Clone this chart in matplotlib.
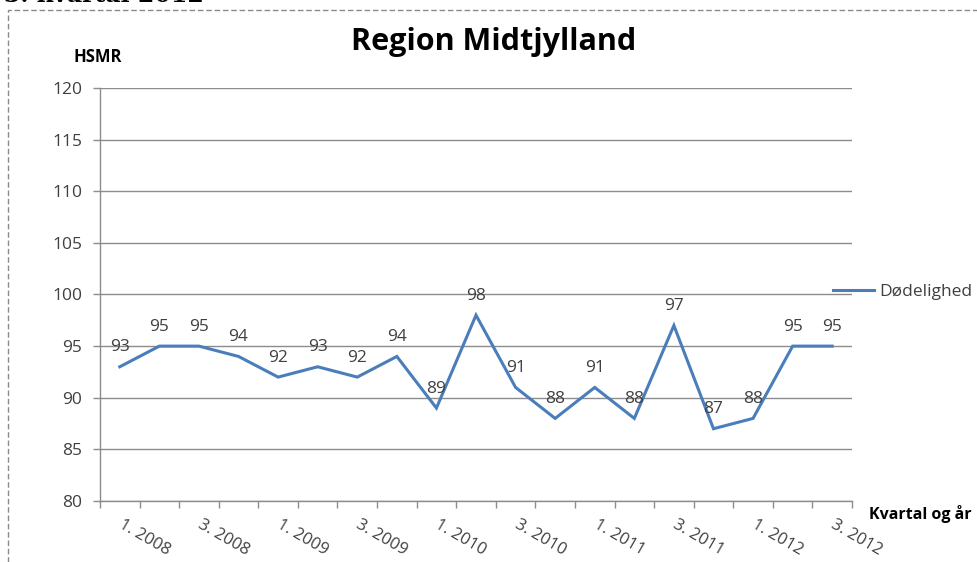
import matplotlib
matplotlib.use("Agg")
import matplotlib.pyplot as plt
from matplotlib.patches import Rectangle

# data
kvartaler = ["1. 2008", "2. 2008", "3. 2008", "4. 2008",
             "1. 2009", "2. 2009", "3. 2009", "4. 2009",
             "1. 2010", "2. 2010", "3. 2010", "4. 2010",
             "1. 2011", "2. 2011", "3. 2011", "4. 2011",
             "1. 2012", "2. 2012", "3. 2012"]
hsmr = [93, 95, 95, 94, 92, 93, 92, 94, 89, 98, 91, 88, 91, 88, 97, 87, 88, 95, 95]
y_ticks = [80, 85, 90, 95, 100, 105, 110, 115, 120]

FONT = ["Open Sans", "DejaVu Sans"]
BLUE = "#4A7EBB"
GRID = "#8C8C8C"
TXT = "#404040"
FS = 12.5

plt.rcParams["font.family"] = FONT

W, H = 978, 562
fig = plt.figure(figsize=(W / 100, H / 100), dpi=100, facecolor="white")

# dashed frame around the chart (only top and left visible)
fig.patches.append(Rectangle((8 / W, -0.05), 1.1, 1 - 10 / H + 0.05,
                             transform=fig.transFigure, fill=False,
                             ec="#8A8A8A", lw=1.0, ls=(0, (4, 2)), clip_on=False))
# page heading, mostly cut off by the top edge
fig.text(4 / W, 1 + 5 / H, "3. kvartal 2012", ha="left", va="center",
         fontsize=17, fontweight="bold", family="DejaVu Serif", color="black")

ax = fig.add_axes([100 / W, 1 - 501 / H, 752 / W, 413 / H])
x = list(range(len(hsmr)))
ax.plot(x, hsmr, color=BLUE, lw=2.2, label="Dødelighed", solid_joinstyle="miter")

for xi, v in zip(x, hsmr):
    ax.annotate(str(v), (xi, v), xytext=(0, 14), textcoords="offset points",
                ha="center", va="center", fontsize=FS, color=TXT)

ax.set_xlim(-0.5, len(hsmr) - 0.5)
ax.set_ylim(80, 120)
ax.set_yticks(y_ticks)
ax.set_yticklabels([str(t) for t in y_ticks], fontsize=FS, color=TXT)
ax.grid(True, axis="y", color=GRID, lw=1.0)
ax.set_axisbelow(True)

# category boundary ticks and every-other labels
ax.set_xticks([i - 0.5 for i in range(len(hsmr) + 1)])
ax.set_xticklabels([])
lab_pos = x[::2]
ax.set_xticks(lab_pos, minor=True)
ax.set_xticklabels([kvartaler[i] for i in lab_pos], minor=True,
                   rotation=-30, ha="left", va="center",
                   rotation_mode="anchor", fontsize=12, color=TXT)
ax.tick_params(axis="x", which="major", direction="out", length=5,
               color=GRID, width=1)
ax.tick_params(axis="x", which="minor", length=0, pad=16)
ax.tick_params(axis="y", direction="out", length=5, color=GRID, width=1, pad=8)

for s in ["top", "right"]:
    ax.spines[s].set_visible(False)
for s in ["left", "bottom"]:
    ax.spines[s].set_color(GRID)
    ax.spines[s].set_linewidth(1.0)

fig.text(494 / W, 1 - 42 / H, "Region Midtjylland", ha="center", va="center",
         fontsize=22, fontweight="bold", color="black")
fig.text(98 / W, 1 - 57 / H, "HSMR", ha="center", va="center",
         fontsize=12, fontweight="bold", color="black")
fig.text(869 / W, 1 - 514 / H, "Kvartal og år", ha="left", va="center",
         fontsize=11.5, fontweight="bold", color="black")

ax.legend(loc="center left", bbox_to_anchor=(824 / W, 1 - 292 / H),
          bbox_transform=fig.transFigure, frameon=False, fontsize=FS,
          handlelength=2.4, handletextpad=0.3, borderpad=0, labelcolor=TXT)

fig.savefig("out.png", dpi=100, facecolor="white")
